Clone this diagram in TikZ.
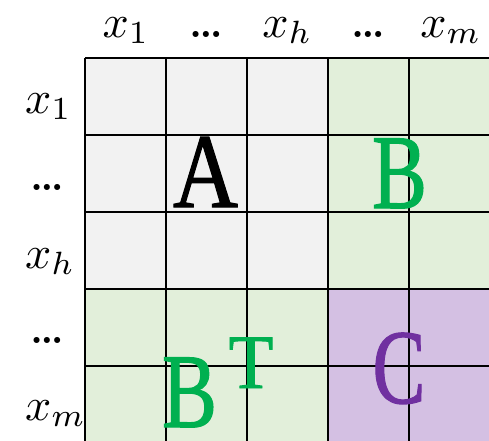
\documentclass[tikz,border=0pt]{standalone}
\usepackage{fontspec}
\usepackage{graphicx}
\newfontfamily\letterfont[FakeBold=1.2]{Liberation Serif}
\definecolor{cellgray}{HTML}{F2F2F2}
\definecolor{cellgreen}{HTML}{E2EFDA}
\definecolor{cellpurple}{HTML}{D4C0E3}
\definecolor{txtgreen}{HTML}{00B050}
\definecolor{txtpurple}{HTML}{7030A0}
\newcommand{\biglab}[1]{\scalebox{4.6}{$#1$}}
\tikzset{
  gridline/.style={line width=2.6pt, black},
  toplabel/.style={anchor=base, inner sep=0pt},
  leftlabel/.style={anchor=base west, inner sep=0pt},
  dotlabel/.style={inner sep=0pt, font=\bfseries\fontsize{42}{46}\selectfont},
  bigletter/.style={anchor=base, inner sep=0pt, font=\letterfont\fontsize{106}{110}\selectfont},
  suplabel/.style={anchor=base, inner sep=0pt, font=\letterfont\fontsize{77}{80}\selectfont},
}
\begin{document}
\begin{tikzpicture}[x=1pt,y=-1pt]
\useasboundingbox (0,0) rectangle (489,440);
\begin{scope}
\clip (0,0) rectangle (489,440);
% fills
\fill[cellgray] (85,58) rectangle (328,289);
\fill[cellgreen] (328,58) rectangle (500,289);
\fill[cellgreen] (85,289) rectangle (328,450);
\fill[cellpurple] (328,289) rectangle (500,450);
% grid lines
\foreach \xx in {85,166,247,328,409,490}
  \draw[gridline] (\xx,58) -- (\xx,450);
\foreach \yy in {58,135,212,289,366,443}
  \draw[gridline] (85,\yy) -- (500,\yy);
\end{scope}
% top labels
\node[toplabel] (t1) at (126,37) {\biglab{x_1}};
\node[dotlabel, anchor=base] (t2) at (206.5,37) {\ldots};
\node[toplabel] (t3) at (287.5,37) {\biglab{x_h}};
\node[dotlabel, anchor=base] (t4) at (368.5,37) {\ldots};
\node[toplabel] (t5) at (451,37) {\biglab{x_m}};
% left labels
\node[leftlabel] (l1) at (25,113) {\biglab{x_1}};
\node[dotlabel, anchor=base west] (l2) at (30,190) {\ldots};
\node[leftlabel] (l3) at (25,268) {\biglab{x_h}};
\node[dotlabel, anchor=base west] (l4) at (30,343) {\ldots};
\node[leftlabel] (l5) at (25,420) {\biglab{x_m}};
% block letters
\node[bigletter] (A) at (205.5,207) {\scalebox{0.85}[1]{A}};
\node[bigletter, text=txtgreen] (B) at (399.5,208) {\scalebox{0.78}[1]{B}};
\node[bigletter, text=txtgreen] (BT) at (189.5,427) {\scalebox{0.78}[1]{B}};
\node[suplabel, text=txtgreen] (T) at (251,388) {\scalebox{0.95}[1]{T}};
\node[bigletter, text=txtpurple] (C) at (399,403) {\scalebox{0.75}[1]{C}};
\end{tikzpicture}
\end{document}
